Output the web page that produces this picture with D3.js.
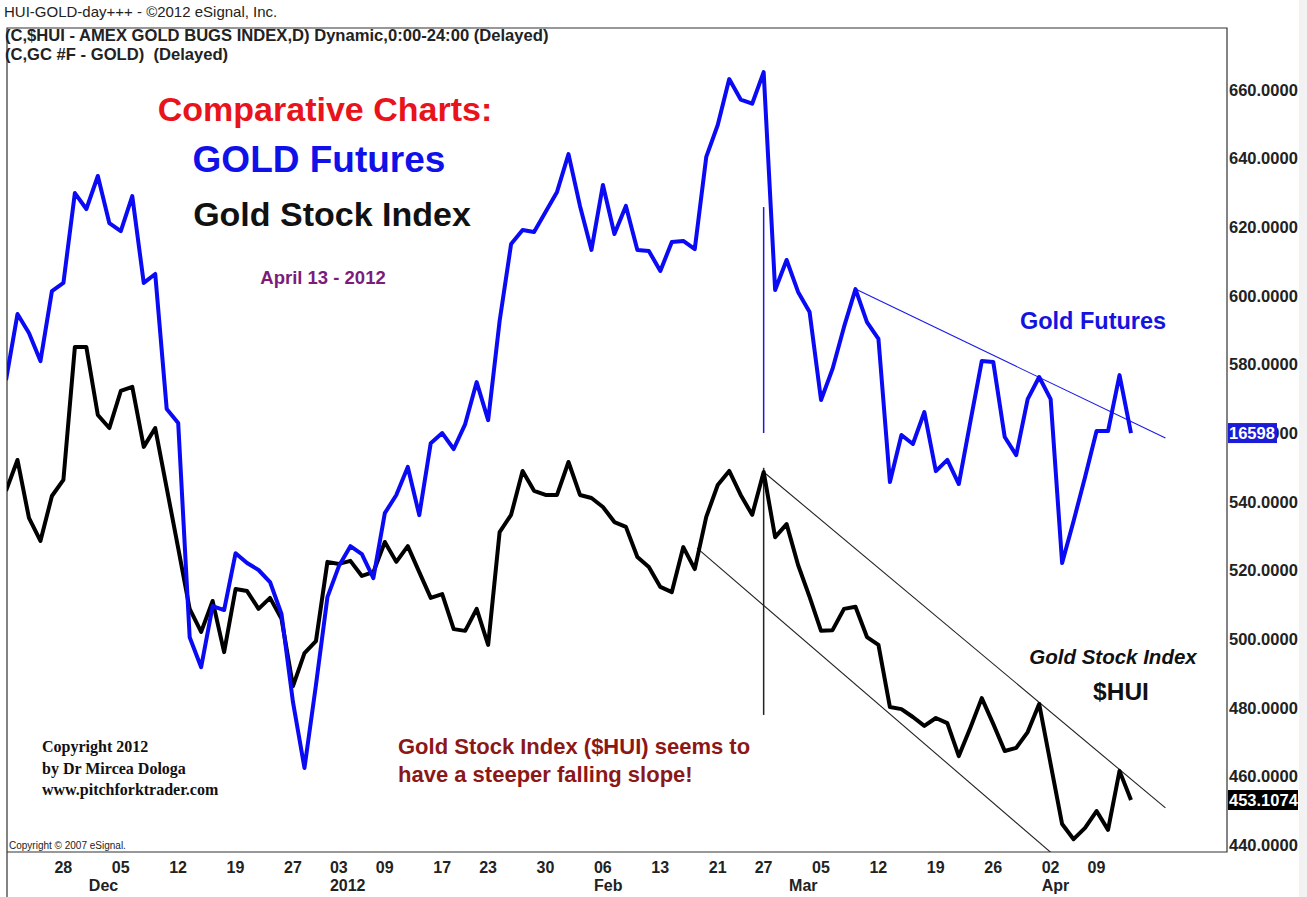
<!DOCTYPE html>
<html>
<head>
<meta charset="utf-8">
<script src="https://d3js.org/d3.v7.min.js"></script>
<style>
body { margin: 0; background: #fff; }
svg { display: block; font-family: "Liberation Sans", Arial, sans-serif; }
</style>
</head>
<body>
<div id="chart"></div>
<script>
// Trading days shown on the chart
var dates = [
  "2011-11-21","2011-11-22","2011-11-23","2011-11-25","2011-11-28","2011-11-29","2011-11-30",
  "2011-12-01","2011-12-02","2011-12-05","2011-12-06","2011-12-07","2011-12-08","2011-12-09",
  "2011-12-12","2011-12-13","2011-12-14","2011-12-15","2011-12-16","2011-12-19","2011-12-20",
  "2011-12-21","2011-12-22","2011-12-23","2011-12-27","2011-12-28","2011-12-29","2011-12-30",
  "2012-01-03","2012-01-04","2012-01-05","2012-01-06","2012-01-09","2012-01-10","2012-01-11",
  "2012-01-12","2012-01-13","2012-01-17","2012-01-18","2012-01-19","2012-01-20","2012-01-23",
  "2012-01-24","2012-01-25","2012-01-26","2012-01-27","2012-01-30","2012-01-31","2012-02-01",
  "2012-02-02","2012-02-03","2012-02-06","2012-02-07","2012-02-08","2012-02-09","2012-02-10",
  "2012-02-13","2012-02-14","2012-02-15","2012-02-16","2012-02-17","2012-02-21","2012-02-22",
  "2012-02-23","2012-02-24","2012-02-27","2012-02-28","2012-02-29","2012-03-01","2012-03-02",
  "2012-03-05","2012-03-06","2012-03-07","2012-03-08","2012-03-09","2012-03-12","2012-03-13",
  "2012-03-14","2012-03-15","2012-03-16","2012-03-19","2012-03-20","2012-03-21","2012-03-22",
  "2012-03-23","2012-03-26","2012-03-27","2012-03-28","2012-03-29","2012-03-30","2012-04-02",
  "2012-04-03","2012-04-04","2012-04-05","2012-04-09","2012-04-10","2012-04-11","2012-04-12",
  "2012-04-13"
];

// GC #F gold futures close (USD)
var gold = [
  1678.7,1702.3,1695.5,1685.5,1710.5,1713.4,1745.5,1739.8,1751.6,1734.8,
  1731.9,1744.4,1713.4,1716.6,1668.4,1663.4,1586.9,1576.2,1598.0,1596.6,
  1616.9,1613.4,1610.9,1606.6,1595.2,1563.7,1540.2,1569.8,1601.2,1612.3,
  1619.4,1616.6,1608.0,1631.2,1637.7,1647.7,1630.5,1656.2,1659.8,1654.1,
  1663.0,1678.0,1664.4,1699.8,1727.3,1732.3,1731.6,1738.7,1745.9,1759.4,
  1740.9,1725.2,1748.4,1730.9,1740.9,1725.2,1724.8,1717.7,1728.0,1728.4,
  1725.5,1758.4,1769.8,1786.2,1778.9,1777.4,1788.7,1710.9,1721.6,1710.2,
  1703.0,1671.6,1682.7,1697.7,1711.2,1699.4,1693.4,1642.3,1659.1,1655.9,
  1667.3,1646.2,1650.2,1641.6,1663.7,1685.5,1685.2,1658.4,1651.9,1671.9,
  1679.8,1671.9,1613.4,1628.4,1644.1,1660.5,1660.5,1680.5,1659.8
];

// $HUI close
var hui = [
  543.2,552.2,535.3,528.6,541.7,546.4,585.1,585.1,565.3,561.5,
  572.3,573.5,556.0,561.5,544.0,526.5,508.8,502.1,511.1,496.2,
  514.6,514.0,508.8,512.0,505.9,486.3,495.9,499.4,522.5,521.9,
  522.8,518.4,519.5,528.3,522.5,527.1,519.5,512.0,513.1,502.9,
  502.4,508.8,498.3,531.2,536.2,549.0,543.2,542.0,542.0,551.6,
  542.0,541.1,538.5,534.1,532.7,523.9,521.0,515.2,513.7,526.8,
  520.4,535.6,544.9,549.0,542.0,536.2,548.7,529.7,533.5,521.6,
  512.3,502.4,502.6,508.8,509.4,500.6,498.3,480.2,479.6,477.3,
  474.7,477.0,475.5,465.9,474.1,482.8,475.3,467.4,468.3,472.9,
  481.1,463.6,446.1,441.7,445.0,449.9,444.4,461.6,453.1074
];

// axis labels
var yTicks = [440, 460, 480, 500, 520, 540, 560, 580, 600, 620, 640, 660];
var dayTicks = ["2011-11-28","2011-12-05","2011-12-12","2011-12-19","2011-12-27","2012-01-03",
  "2012-01-09","2012-01-17","2012-01-23","2012-01-30","2012-02-06","2012-02-13","2012-02-21",
  "2012-02-27","2012-03-05","2012-03-12","2012-03-19","2012-03-26","2012-04-02","2012-04-09"];
var monthTicks = ["2011-12-01","2012-01-03","2012-02-06","2012-03-01","2012-04-02"];
var monthNames = ["Dec","2012","Feb","Mar","Apr"];

// drawn lines: [day index, value]
var goldTrend = [[74, 1711.2], [101, 1658.0]];
var goldMark = [[66, 1740.5], [66, 1659.8]];
var huiUpper = [[66, 548.7], [101, 450.8]];
var huiLower = [[60.2, 526.5], [101, 409.1]];
var huiMark = [[66, 549.9], [66, 477.9]];

var svgWidth = 1307, svgHeight = 897;
var frame = { left: 7, top: 28, right: 1227, bottom: 852 };

var svg = d3.select("#chart").append("svg")
  .attr("width", svgWidth)
  .attr("height", svgHeight);

var x = d3.scaleLinear().domain([0, dates.length - 1]).range([6, 1131]);
var y = d3.scaleLinear().domain([440, 660]).range([845, 90]);
var yGold = d3.scaleLinear().domain([1512.7, 1782.3]).range([845, 90]);

svg.append("rect").attr("x", 1299).attr("y", 0).attr("width", 8).attr("height", svgHeight)
  .attr("fill", "#f2f2f2");

svg.append("clipPath").attr("id", "plot")
  .append("rect")
  .attr("x", frame.left).attr("y", frame.top)
  .attr("width", frame.right - frame.left).attr("height", frame.bottom - frame.top);

// frame
svg.append("path")
  .attr("d", `M${frame.left},${svgHeight}V${frame.top}H${frame.right}V${frame.bottom}H${frame.left}`)
  .attr("fill", "none").attr("stroke", "#333").attr("stroke-width", 1.2);

// header texts
svg.append("text").attr("x", 4).attr("y", 17).attr("font-size", 15).attr("fill", "#222")
  .text("HUI-GOLD-day+++ - \u00A92012 eSignal, Inc.");
svg.append("text").attr("x", 5).attr("y", 41).attr("font-size", 16.6).attr("font-weight", "bold").attr("fill", "#222")
  .text("(C,$HUI - AMEX GOLD BUGS INDEX,D) Dynamic,0:00-24:00 (Delayed)");
svg.append("text").attr("x", 5).attr("y", 60).attr("font-size", 16.6).attr("font-weight", "bold").attr("fill", "#222")
  .attr("xml:space", "preserve")
  .text("(C,GC #F - GOLD)  (Delayed)");

var plot = svg.append("g").attr("clip-path", "url(#plot)");

var huiLine = d3.line().x(function(d, i) { return x(i); }).y(function(d) { return y(d); });
var goldLine = d3.line().x(function(d, i) { return x(i); }).y(function(d) { return yGold(d); });
var segHui = d3.line().x(function(d) { return x(d[0]); }).y(function(d) { return y(d[1]); });
var segGold = d3.line().x(function(d) { return x(d[0]); }).y(function(d) { return yGold(d[1]); });

plot.append("path").attr("d", segGold(goldTrend)).attr("stroke", "#1a1ae6").attr("stroke-width", 1.1).attr("fill", "none");
plot.append("path").attr("d", segGold(goldMark)).attr("stroke", "#1a1ae6").attr("stroke-width", 1.5).attr("fill", "none");
plot.append("path").attr("d", segHui(huiUpper)).attr("stroke", "#222").attr("stroke-width", 1.1).attr("fill", "none");
plot.append("path").attr("d", segHui(huiLower)).attr("stroke", "#222").attr("stroke-width", 1.1).attr("fill", "none");
plot.append("path").attr("d", segHui(huiMark)).attr("stroke", "#222").attr("stroke-width", 1.5).attr("fill", "none");

plot.append("path").datum(hui).attr("d", huiLine)
  .attr("fill", "none").attr("stroke", "#000").attr("stroke-width", 4).attr("stroke-linejoin", "round");
plot.append("path").datum(gold).attr("d", goldLine)
  .attr("fill", "none").attr("stroke", "#0a0af5").attr("stroke-width", 4).attr("stroke-linejoin", "round");

// right axis
var rightAxis = d3.axisRight(y).tickValues(yTicks).tickFormat(d3.format(".4f")).tickSize(0).tickPadding(2);
var ra = svg.append("g").attr("transform", `translate(${frame.right},0)`).call(rightAxis);
ra.select(".domain").remove();
ra.selectAll("text").attr("font-size", 16.5).attr("font-weight", "bold").attr("fill", "#222")
  .attr("font-family", "Liberation Sans, Arial, sans-serif");

// last value tags
var goldLast = gold[gold.length - 1];
var huiLast = hui[hui.length - 1];
svg.append("rect").attr("x", frame.right + 1).attr("y", yGold(goldLast) - 10).attr("width", 49).attr("height", 20)
  .attr("fill", "#1c1cd8");
svg.append("text").attr("x", frame.right + 2).attr("y", yGold(goldLast)).attr("dy", "0.35em")
  .attr("font-size", 16.5).attr("font-weight", "bold").attr("fill", "#fff")
  .text(String(goldLast).replace(".", ""));
svg.append("rect").attr("x", frame.right + 1).attr("y", y(huiLast) - 10).attr("width", 70).attr("height", 20)
  .attr("fill", "#000");
svg.append("text").attr("x", frame.right + 2).attr("y", y(huiLast)).attr("dy", "0.35em")
  .attr("font-size", 16.5).attr("font-weight", "bold").attr("fill", "#fff")
  .text(d3.format(".4f")(huiLast));

// bottom axis: day numbers and months
var dayAxis = d3.axisBottom(x)
  .tickValues(dayTicks.map(function(d) { return dates.indexOf(d); }))
  .tickFormat(function(i) { return dates[i].slice(8); })
  .tickSize(0).tickPadding(10);
var da = svg.append("g").attr("transform", `translate(0,${frame.bottom})`).call(dayAxis);
da.select(".domain").remove();
da.selectAll("text").attr("text-anchor", "start").attr("dx", 2)
  .attr("font-size", 16).attr("font-weight", "bold").attr("fill", "#222")
  .attr("font-family", "Liberation Sans, Arial, sans-serif");

var monthAxis = d3.axisBottom(x)
  .tickValues(monthTicks.map(function(d) { return dates.indexOf(d); }))
  .tickFormat(function(i, k) { return monthNames[k]; })
  .tickSize(0).tickPadding(28);
var ma = svg.append("g").attr("transform", `translate(0,${frame.bottom})`).call(monthAxis);
ma.select(".domain").remove();
ma.selectAll("text").attr("text-anchor", "start").attr("dx", 2)
  .attr("font-size", 16).attr("font-weight", "bold").attr("fill", "#222")
  .attr("font-family", "Liberation Sans, Arial, sans-serif");

// annotations
function note(tx, ty, str, size, color, anchor, style) {
  return svg.append("text").attr("x", tx).attr("y", ty)
    .attr("font-size", size).attr("font-weight", "bold").attr("fill", color)
    .attr("text-anchor", anchor || "start").attr("font-style", style || "normal")
    .text(str);
}
note(325, 121, "Comparative Charts:", 34, "#e8131b", "middle");
note(319, 172, "GOLD Futures", 37, "#1010e8", "middle");
note(332, 226, "Gold Stock Index", 34, "#111", "middle");
note(323, 284, "April 13 - 2012", 18.5, "#7b1c7b", "middle");
note(1093, 329, "Gold Futures", 23.5, "#1414e0", "middle");
note(1113, 664, "Gold Stock Index", 20.5, "#111", "middle", "italic");
note(1121, 700, "$HUI", 24.5, "#111", "middle");
note(398, 754, "Gold Stock Index ($HUI) seems to", 22, "#8c1717");
note(398, 782, "have a steeper falling slope!", 22, "#8c1717");

svg.selectAll(".serif")
  .data(["Copyright 2012", "by Dr Mircea Dologa", "www.pitchforktrader.com"])
  .enter().append("text")
  .attr("x", 42).attr("y", function(d, i) { return 752 + i * 21.5; })
  .attr("font-family", "Liberation Serif, Times New Roman, serif")
  .attr("font-size", 16).attr("font-weight", "bold").attr("fill", "#111")
  .text(function(d) { return d; });

svg.append("text").attr("x", 9).attr("y", 849).attr("font-size", 10).attr("fill", "#222")
  .text("Copyright \u00A9 2007 eSignal.");
</script>
</body>
</html>
